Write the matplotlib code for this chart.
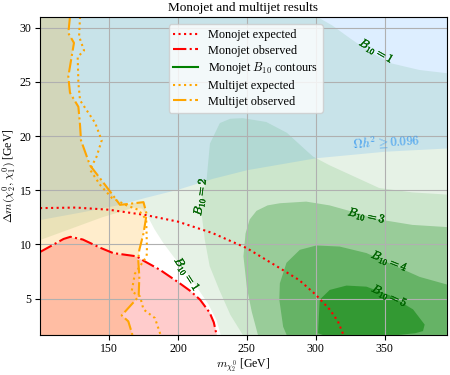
import numpy as np
import matplotlib
matplotlib.use("Agg")
import matplotlib.pyplot as plt
import matplotlib.patheffects as pe
from matplotlib.colors import to_rgb

plt.rcParams['font.family'] = 'Liberation Serif'
plt.rcParams['mathtext.fontset'] = 'cm'

# --- limits
xlim = (100, 395)
ylim = (1.65, 31.0)

# --- B10 contour regions (polygons)
# lower-left lobe with B10 < 1
b1_low_x = [100, 115, 130, 145, 158, 168, 174, 178, 183, 189, 196, 205, 214, 222, 228, 231, 100]
b1_low_y = [10.4, 11.1, 11.8, 12.5, 13.0, 13.4, 13.3, 12.6, 11.4, 10.2, 9.0, 7.6, 6.0, 4.5, 3.0, 1.65, 1.65]
# upper-right lobe with B10 < 1
b1_up_x = [301, 312, 325, 340, 355, 375, 395, 395]
b1_up_y = [31.0, 30.2, 29.0, 27.7, 26.7, 26.1, 25.8, 31.0]
# B10 >= 2
b2_x = [247, 238, 230, 223, 219.5, 217, 217.5, 220.8, 223.2, 230.4, 238, 247, 264, 279, 291, 298, 310, 322, 346, 370, 395, 395]
b2_y = [1.65, 3.5, 5.8, 8.0, 10.4, 13.0, 14.5, 16.0, 19.3, 21.2, 21.6, 21.65, 21.3, 20.3, 18.9, 18.1, 17.3, 16.6, 15.2, 14.8, 14.6, 1.65]
# B10 >= 3
b3_x = [258, 253.5, 250, 247.5, 249, 252, 257, 265, 274, 293, 310, 327, 346, 370, 395, 395]
b3_y = [1.65, 3.8, 6.0, 8.9, 11.0, 12.3, 13.1, 13.6, 13.8, 13.95, 13.6, 13.0, 12.3, 11.8, 11.6, 1.65]
# B10 >= 4
b4_x = [278.8, 276.3, 273.5, 273.9, 278.7, 288.4, 300.4, 317.3, 336.7, 356, 375.3, 395, 395]
b4_y = [1.65, 2.4, 4.9, 6.4, 8.3, 9.5, 9.9, 9.8, 9.2, 8.1, 7.0, 6.3, 1.65]
# B10 >= 5
b5_x = [301.6, 302.8, 310.1, 322.2, 336.7, 353.6, 370.5, 378.9, 377.7, 372, 360, 330, 305]
b5_y = [1.8, 4.9, 5.8, 6.2, 6.1, 5.3, 4.0, 2.6, 2.0, 1.8, 1.65, 1.65, 1.65]

# --- relic density region (above this line)
relic_x = [100, 130, 158, 175, 200, 225, 250, 300, 350, 395]
relic_y = [12.3, 13.0, 13.7, 14.3, 15.1, 16.1, 16.9, 18.0, 18.6, 18.9]

# --- monojet limits
mono_exp_x = [100, 126, 150, 177, 200, 225, 250, 274, 288, 300, 310, 316, 320]
mono_exp_y = [13.35, 13.4, 13.2, 12.7, 12.1, 11.05, 9.65, 7.8, 6.7, 5.35, 4.0, 2.9, 1.65]
mono_obs_x = [100, 110, 117, 122, 131, 143.5, 153, 170, 175, 187, 201.4, 209, 216, 223, 226, 228]
mono_obs_y = [9.3, 10.0, 10.5, 10.7, 10.45, 9.7, 9.2, 8.9, 8.5, 7.65, 6.4, 5.7, 4.9, 3.7, 2.8, 1.65]

# --- multijet limits
multi_exp_x = [129, 128.3, 131.9, 127.3, 127.8, 129, 140, 144.7, 141, 136.2, 143.5, 152, 162.8, 171.2, 177,
               177.5, 177.3, 168.8, 166.4, 172.5, 175, 183.3, 187.4]
multi_exp_y = [31.0, 29.2, 27.9, 27.3, 24.9, 23.3, 21.2, 19.6, 18.1, 16.9, 15.5, 14.3, 13.6, 13.2, 12.3,
               9.6, 8.9, 7.3, 5.65, 5.2, 4.0, 3.2, 1.65]
multi_obs_x = [121.7, 120.5, 124.6, 120.5, 121.7, 127.8, 129, 129.7, 136.2, 143.5, 150.7, 158, 165, 175, 177.3,
               175, 172, 171.2, 172, 171.5, 169.5, 159.2, 164, 167]
multi_obs_y = [31.0, 29.5, 28.6, 25.5, 24.0, 22.7, 21.0, 19.6, 17.3, 16.1, 14.9, 13.65, 13.75, 13.9, 12.8,
               11.0, 9.5, 8.6, 7.0, 5.2, 4.9, 3.45, 2.9, 1.65]

# contour labels: level, x, y, rotation
labels = [(1, 344, 27.8, -30), (2, 216.5, 14.4, 82), (1, 206.5, 7.2, -57),
          (3, 337, 12.6, -12), (4, 353.5, 8.4, -22), (5, 353.5, 5.2, -25)]


def green_shade(a):
    g = np.array(to_rgb('green'))
    return tuple((1 - a) + a * g)


fig, ax = plt.subplots(figsize=(4.5, 3.75), dpi=100)
fig.subplots_adjust(left=0.089, right=0.993, top=0.955, bottom=0.107)

# B10 filled contours
ax.set_facecolor(green_shade(0.1))
ax.fill(b1_low_x, b1_low_y, color='white', lw=0)
ax.fill(b1_up_x, b1_up_y, color='white', lw=0)
ax.fill(b2_x, b2_y, color=green_shade(0.2), lw=0)
ax.fill(b3_x, b3_y, color=green_shade(0.4), lw=0)
ax.fill(b4_x, b4_y, color=green_shade(0.6), lw=0)
ax.fill(b5_x, b5_y, color=green_shade(0.8), lw=0)

# relic density
ax.fill_between(relic_x, relic_y, ylim[1] + 1, color='dodgerblue', alpha=0.15, lw=0)
ax.text(351, 19.5, r'$\Omega h^2 \geq 0.096$', color='#3d9cf0', fontsize=9,
        ha='center', va='center', rotation=3)

# excluded regions
ax.fill(multi_obs_x + [90, 90], multi_obs_y + [ylim[0] - 1, ylim[1] + 1],
        color='orange', alpha=0.2, lw=0)
ax.fill_between(mono_obs_x, ylim[0] - 1, mono_obs_y, color='red', alpha=0.2, lw=0)

# limit lines
ax.plot(mono_exp_x, mono_exp_y, color='red', ls=':', lw=1.5, label='Monojet expected')
ax.plot(mono_obs_x, mono_obs_y, color='red', ls='-.', lw=1.5, label='Monojet observed')
ax.plot([], [], color='green', lw=1.5, label=r'Monojet $B_{10}$ contours')
ax.plot(multi_exp_x, multi_exp_y, color='orange', ls=':', lw=1.5, label='Multijet expected')
ax.plot(multi_obs_x, multi_obs_y, color='orange', ls='-.', lw=1.5, label='Multijet observed')

for lev, lx, ly, rot in labels:
    ax.text(lx, ly, r'$B_{10} = %d$' % lev, color='darkgreen', fontsize=8.5,
            ha='center', va='center', rotation=rot,
            path_effects=[pe.withStroke(linewidth=0.3, foreground='darkgreen')])

ax.set_xlim(*xlim)
ax.set_ylim(*ylim)
ax.set_xticks([150, 200, 250, 300, 350])
ax.set_yticks([5, 10, 15, 20, 25, 30])
ax.tick_params(labelsize=8.5, pad=2.5)
ax.grid(True)
ax.set_xlabel(r'$m_{\chi_2^0}$ [GeV]', fontsize=8.5, labelpad=1)
ax.set_ylabel(r'$\Delta m(\chi_2^0, \chi_1^0)$ [GeV]', fontsize=8.5, labelpad=1)
ax.set_title('Monojet and multijet results', fontsize=9.5, pad=4)
ax.legend(loc='upper left', bbox_to_anchor=(0.31, 0.985), fontsize=8.8,
          borderaxespad=0.2, labelspacing=0.3)

fig.savefig('out.png', dpi=100)
